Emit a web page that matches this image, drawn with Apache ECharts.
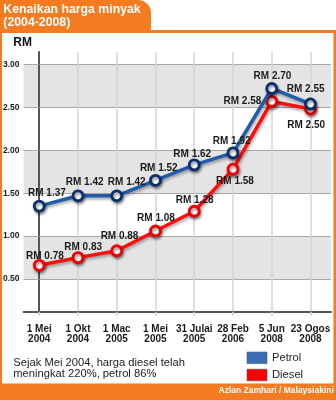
<!DOCTYPE html>
<html>
<head>
<meta charset="utf-8">
<script src="https://cdn.jsdelivr.net/npm/echarts@6/dist/echarts.min.js"></script>
<style>html,body{margin:0;padding:0;background:#fff;}#c{width:336px;height:400px;}</style>
</head>
<body>
<div id="c"></div>
<script>
// ---- data ----
const categories = ['1 Mei\n2004', '1 Okt\n2004', '1 Mac\n2005', '1 Mei\n2005', '31 Julai\n2005', '28 Feb\n2006', '5 Jun\n2008', '23 Ogos\n2008'];
const seriesNames = ['Petrol', 'Diesel'];
// values as plotted in the picture
const petrolValues = [1.35, 1.47, 1.47, 1.65, 1.83, 1.97, 2.72, 2.54];
const dieselValues = [0.66, 0.75, 0.83, 1.06, 1.29, 1.78, 2.57, 2.48];
// printed price labels
const petrolLabels = ['RM 1.37', 'RM 1.42', 'RM 1.42', 'RM 1.52', 'RM 1.62', 'RM 1.92', 'RM 2.70', 'RM 2.55'];
const dieselLabels = ['RM 0.78', 'RM 0.83', 'RM 0.88', 'RM 1.08', 'RM 1.28', 'RM 1.58', 'RM 2.58', 'RM 2.50'];
const yTicks = [0.5, 1.0, 1.5, 2.0, 2.5, 3.0];
const xTicks = [0, 1, 2, 3, 4, 5, 6, 7];
const titleText = 'Kenaikan harga minyak\n(2004-2008)';
const unitText = 'RM';
const noteText = 'Sejak Mei 2004, harga diesel telah\nmeningkat 220%, petrol 86%';
const creditText = 'Azlan Zamhari / Malaysiakini';

// ---- styling / layout ----
const FONT = '"Liberation Sans", Arial, sans-serif';
const ORANGE = '#f47b20';
const petrolLabelPos = [
  {p:'top', dx:7.7, dy:-1.7}, {p:'top', dx:6.7, dy:-1.7}, {p:'top', dx:10, dy:-1.7}, {p:'top', dx:3.3, dy:-0.7},
  {p:'top', dx:-2, dy:1}, {p:'top', dx:-1.3, dy:0}, {p:'top', dx:0.8, dy:-0.6}, {p:'top', dx:-4.8, dy:-3.7}
];
const dieselLabelPos = [
  {p:'top', dx:5.7, dy:2}, {p:'top', dx:5.2, dy:1}, {p:'top', dx:2.8, dy:-3}, {p:'top', dx:0.5, dy:-1.7},
  {p:'top', dx:0.4, dy:0}, {p:'bottom', dx:2, dy:0.4}, {p:'left', dx:0, dy:0, d:4}, {p:'bottom', dx:-4.3, dy:4.7}
];

function buildData(values, labels, pos) {
  return values.map((v, i) => ({
    value: [i, v],
    label: {
      formatter: labels[i],
      position: pos[i].p,
      distance: pos[i].d != null ? pos[i].d : 0,
      offset: [pos[i].dx, pos[i].dy]
    }
  }));
}

const labelStyle = {
  show: true, color: '#1a1a1a', fontFamily: FONT, fontWeight: 'bold', fontSize: 10
};

const chart = echarts.init(document.getElementById('c'), null, {renderer: 'canvas'});
chart.setOption({
  backgroundColor: '#ffffff',
  animation: false,
  textStyle: {fontFamily: FONT},
  grid: {left: 23.3, right: 5, top: 52, bottom: 88.3, containLabel: false},
  xAxis: {
    type: 'value', min: -0.405, max: 7.53,
    axisLine: {show: true, onZero: false, lineStyle: {color: '#555', width: 2}},
    axisTick: {show: true, length: 4, customValues: xTicks, lineStyle: {color: '#cfcfcf', width: 1.5}},
    axisLabel: {
      show: true, customValues: xTicks, margin: 13,
      formatter: v => categories[Math.round(v)] || '',
      color: '#1a1a1a', fontFamily: FONT, fontWeight: 'bold', fontSize: 10, lineHeight: 10
    },
    splitLine: {show: true, lineStyle: {color: '#d4d4d4', width: 1.5}},
    splitArea: {show: false}
  },
  yAxis: {
    type: 'value', min: 0.12, max: 3.145,
    axisLine: {show: true, lineStyle: {color: '#555', width: 2}},
    axisTick: {show: true, length: 4, customValues: yTicks, lineStyle: {color: '#a8a8a8'}},
    axisLabel: {
      show: true, customValues: yTicks, margin: 4,
      formatter: v => Number(v).toFixed(2),
      color: '#1a1a1a', fontFamily: FONT, fontWeight: 'bold', fontSize: 8.5
    },
    splitLine: {show: true, lineStyle: {color: '#a8a8a8', width: 1}},
    splitArea: {show: true, areaStyle: {color: ['#e4e4e4', 'rgba(255,255,255,0)']}}
  },
  legend: {
    orient: 'vertical', left: 246.7, top: 351.7, padding: 0,
    itemWidth: 20, itemHeight: 11.6, itemGap: 5, icon: 'rect',
    textStyle: {color: '#222', fontFamily: FONT, fontSize: 11.2},
    data: [
      {name: seriesNames[0], itemStyle: {color: '#3b6db6', borderColor: '#556', borderWidth: 0.6}},
      {name: seriesNames[1], itemStyle: {color: '#ff0000', borderColor: '#655', borderWidth: 0.6}}
    ]
  },
  series: [
    {
      name: seriesNames[1], type: 'line', z: 3,
      data: buildData(dieselValues, dieselLabels, dieselLabelPos),
      symbol: 'circle', symbolSize: 10,
      lineStyle: {color: '#ff0d0d', width: 3.5, shadowColor: 'rgba(0,0,0,0.35)', shadowBlur: 3, shadowOffsetX: 1, shadowOffsetY: 2},
      itemStyle: {color: '#ffffff', borderColor: '#f00000', borderWidth: 2.8, shadowColor: 'rgba(0,0,0,0.45)', shadowBlur: 3, shadowOffsetX: 1, shadowOffsetY: 2},
      label: labelStyle
    },
    {
      name: seriesNames[0], type: 'line', z: 4,
      data: buildData(petrolValues, petrolLabels, petrolLabelPos),
      symbol: 'circle', symbolSize: 10,
      lineStyle: {color: '#1f5dab', width: 3.5, shadowColor: 'rgba(0,0,0,0.35)', shadowBlur: 3, shadowOffsetX: 1, shadowOffsetY: 2},
      itemStyle: {color: '#ffffff', borderColor: '#0b2f6d', borderWidth: 2.8, shadowColor: 'rgba(0,0,0,0.45)', shadowBlur: 3, shadowOffsetX: 1, shadowOffsetY: 2},
      label: labelStyle
    }
  ],
  graphic: [
    {type: 'rect', shape: {x: 0, y: 0, width: 151, height: 32, r: [0, 13, 0, 0]}, style: {fill: ORANGE}, silent: true},
    {type: 'rect', shape: {x: 0, y: 30, width: 336, height: 3}, style: {fill: ORANGE}, silent: true},
    {type: 'rect', shape: {x: 0, y: 30, width: 2, height: 370}, style: {fill: ORANGE}, silent: true},
    {type: 'rect', shape: {x: 333.5, y: 30, width: 2.5, height: 370}, style: {fill: ORANGE}, silent: true},
    {type: 'rect', shape: {x: 0, y: 383.5, width: 336, height: 16.5}, style: {fill: ORANGE}, silent: true},
    {type: 'text', left: 3.3, top: 3.6, silent: true,
      style: {text: titleText, fill: '#ffffff', font: 'bold 12.3px ' + FONT, lineHeight: 12.7}},
    {type: 'text', left: 13.3, top: 36.5, silent: true,
      style: {text: unitText, fill: '#111', font: 'bold 12px ' + FONT}},
    {type: 'text', left: 13.3, top: 357.3, silent: true,
      style: {text: noteText, fill: '#222', font: '11.2px ' + FONT, lineHeight: 10.7}},
    {type: 'text', right: 2.2, top: 386.5, silent: true,
      style: {text: creditText, fill: '#ffffff', font: 'bold 8.5px ' + FONT}}
  ]
});
</script>
</body>
</html>
